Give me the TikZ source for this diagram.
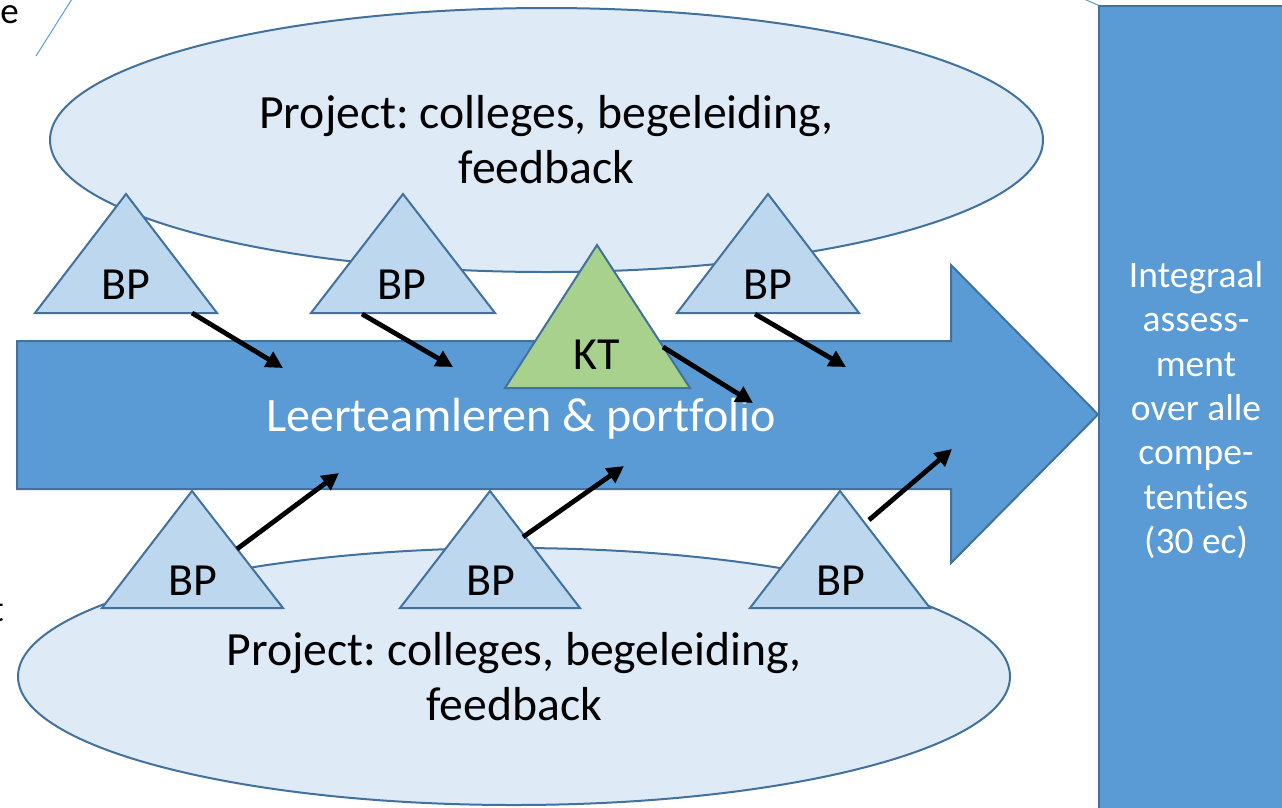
\documentclass[tikz,border=0pt]{standalone}
\usepackage{fontspec}
\setmainfont[Ligatures=NoCommon]{Carlito}
\usetikzlibrary{arrows.meta,shapes.geometric}
\definecolor{edge}{HTML}{41719C}
\definecolor{pale}{HTML}{DEEBF7}
\definecolor{tri}{HTML}{BDD7EE}
\definecolor{mainblue}{HTML}{5B9BD5}
\definecolor{ktgreen}{HTML}{A9D18E}
\frenchspacing
\begin{document}
\begin{tikzpicture}[x=1pt,y=-1pt,
  outl/.style={draw=edge,line width=2pt},
  cloud/.style={outl,fill=pale,ellipse,inner sep=0pt,align=center,font=\fontsize{47.7}{55}\selectfont},
  bptri/.style={outl,fill=tri},
  kttri/.style={outl,fill=ktgreen},
  lbl/.style={font=\fontsize{46}{55}\selectfont,anchor=base,inner sep=0pt},
  stray/.style={font=\fontsize{37}{44}\selectfont,anchor=base east,inner sep=0pt},
  push/.style={line width=4.8pt,-{Triangle[length=17pt,width=17pt]}},
  thin/.style={draw=mainblue,line width=1pt},
]
\useasboundingbox (0,0) rectangle (1282,807);
\clip (0,0) rectangle (1282,807);

% fragments at the edges
\node[stray] (strayE) at (19,23) {e};
\node[stray] (strayT) at (4,621) {t};
\coordinate (la) at (36,56);
\coordinate (lb) at (72,-1);
\draw[thin] (la) -- (lb);
\coordinate (lc) at (1084,-1);
\coordinate (ld) at (1100,6);
\draw[thin] (lc) -- (ld);

% project ellipses
\node[cloud,minimum width=993pt,minimum height=264pt] (projtop) at (546.5,140) {Project: colleges, begeleiding,\\feedback};
\node[cloud,minimum width=992pt,minimum height=257pt] (projbot) at (514,676.5) {Project: colleges, begeleiding,\\feedback};

% main arrow
\path[outl,fill=mainblue] (17,341) -- (951,341) -- (951,265) -- (1098,414.5) -- (951,563) -- (951,489) -- (17,489) -- cycle;
\node[lbl,white,font=\fontsize{48}{55}\selectfont] (flow) at (521,431) {Leerteamleren \& portfolio};

% assessment box
\path[outl,fill=mainblue] (1099,6) rectangle (1300,830);
\node[white,align=center,font=\fontsize{37.5}{44.3}\selectfont,inner sep=0pt] (assess) at (1196,410) {Integraal\\assess-\\ment\\over alle\\compe-\\tenties\\(30 ec)};

% top triangles
\path[bptri] (126,194) -- (217,313) -- (35,313) -- cycle;
\node[lbl] (bpa) at (126,299) {BP};
\path[bptri] (403,194) -- (495,313) -- (311,313) -- cycle;
\node[lbl] (bpb) at (402,299) {BP};
\path[bptri] (768,194) -- (859,313) -- (677,313) -- cycle;
\node[lbl] (bpc) at (768,299) {BP};
\path[kttri] (597,245) -- (690,388) -- (505,388) -- cycle;
\node[lbl] (kt) at (597,369) {KT};

% bottom triangles
\path[bptri] (192,491) -- (283,608) -- (102,608) -- cycle;
\node[lbl] (bpd) at (193,595) {BP};
\path[bptri] (490,491) -- (580,608) -- (400,608) -- cycle;
\node[lbl] (bpe) at (491,595) {BP};
\path[bptri] (840,491) -- (930,608) -- (750,608) -- cycle;
\node[lbl] (bpf) at (841,595) {BP};

% black arrows
\coordinate (s1) at (192,313); \coordinate (e1) at (283,368);
\coordinate (s2) at (362,314); \coordinate (e2) at (453,367);
\coordinate (s3) at (755,314); \coordinate (e3) at (846,367);
\coordinate (s4) at (663,347); \coordinate (e4) at (753,403);
\coordinate (s5) at (237,549); \coordinate (e5) at (339,473);
\coordinate (s6) at (523,537); \coordinate (e6) at (624,466);
\coordinate (s7) at (869,520); \coordinate (e7) at (952,449);
\draw[push] (s1) -- (e1);
\draw[push] (s2) -- (e2);
\draw[push] (s3) -- (e3);
\draw[push] (s4) -- (e4);
\draw[push] (s5) -- (e5);
\draw[push] (s6) -- (e6);
\draw[push] (s7) -- (e7);
\end{tikzpicture}
\end{document}
